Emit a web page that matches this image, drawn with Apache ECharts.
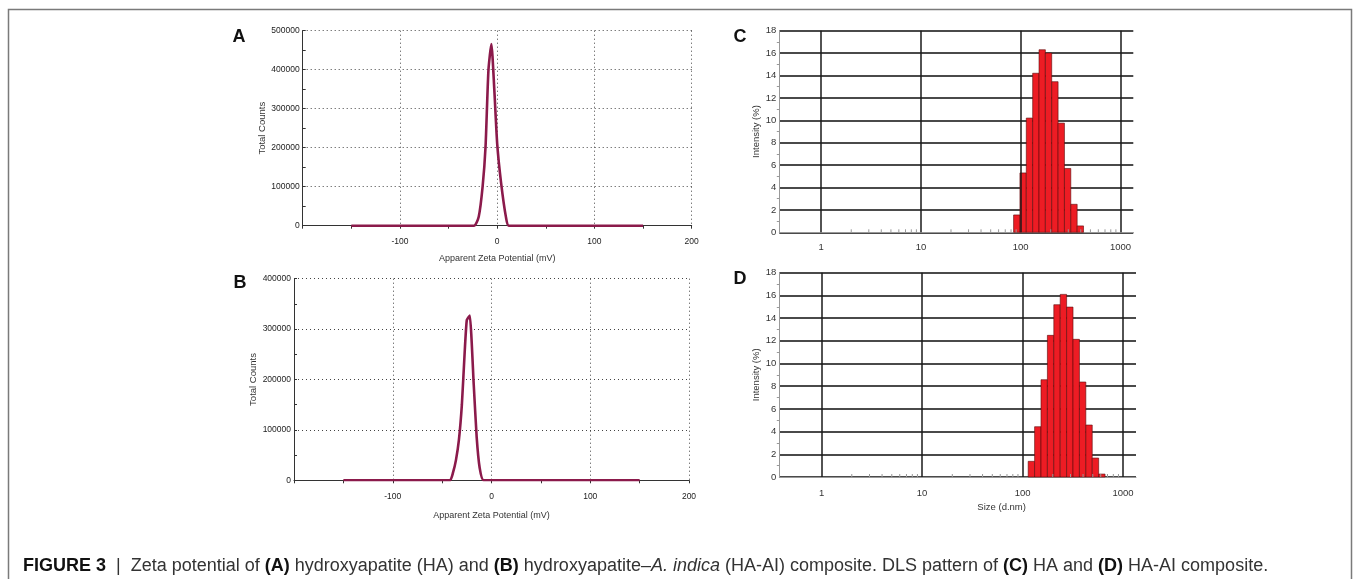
<!DOCTYPE html>
<html>
<head>
<meta charset="utf-8">
<script src="https://cdn.jsdelivr.net/npm/echarts@6/dist/echarts.min.js"></script>
<style>
html,body{margin:0;padding:0;background:#fff;}
#chart{width:1355px;height:579px;}
</style>
</head>
<body>
<div id="chart"></div>
<script>
// ---------- DATA ----------
// Panel A: zeta potential of HA
const zetaA = [-150, -24, -19, -15, -12, -9, -6, -3, 0, 4, 9, 12, 150];
const countsA = [0, 0, 23000, 100000, 202000, 399000, 466000, 350000, 210000, 110000, 22000, 0, 0];
// Panel B: zeta potential of HA-AI
const zetaB = [-150, -42, -39, -36, -33, -30, -27, -25, -22, -18, -15, -12, -8, 150];
const countsB = [0, 0, 15000, 40000, 80000, 150000, 260000, 318000, 327000, 190000, 85000, 25000, 0, 0];
// Panel C: DLS size distribution of HA
const sizeC = [91.28, 105.7, 122.4, 141.8, 164.2, 190.1, 220.2, 255.0, 295.3, 342.0, 396.1];
const intensityC = [1.55, 5.3, 10.2, 14.2, 16.3, 16.0, 13.45, 9.75, 5.7, 2.5, 0.57];
// Panel D: DLS size distribution of HA-AI
const sizeD = [122.4, 141.8, 164.2, 190.1, 220.2, 255.0, 295.3, 342.0, 396.1, 458.7, 531.2, 615.1];
const intensityD = [1.38, 4.43, 8.57, 12.48, 15.18, 16.09, 14.97, 12.13, 8.37, 4.58, 1.67, 0.26];
// Tick labels / positions
const zetaTicks = [-100, 0, 100, 200];
const sizeDecades = [1, 10, 100, 1000];
const sizeMinorTicks = [2,3,4,5,6,7,8,9,20,30,40,50,60,70,80,90,200,300,400,500,600,700,800,900];

// ---------- STYLE ----------
const BIN_RATIO = 1.158;
const narrow = "'Liberation Sans Narrow', 'Liberation Sans', Arial, sans-serif";
const sans = "'Liberation Sans', Arial, sans-serif";
const lineColor = '#8b1a4b';
const barColor = '#ed1c24';

const chart = echarts.init(document.getElementById('chart'));

function zetaX(gridIdx, nameGap, labelMargin) {
  return {
    type: 'value', gridIndex: gridIdx, min: -200, max: 200, interval: 100,
    name: 'Apparent Zeta Potential (mV)', nameLocation: 'middle', nameGap: nameGap,
    nameTextStyle: {fontFamily: narrow, fontSize: 9, color: '#333'},
    axisLine: {show: true, onZero: false, lineStyle: {color: '#333', width: 1}},
    axisTick: {show: true, length: 3, lineStyle: {color: '#333'}},
    minorTick: {show: true, splitNumber: 2, length: 3, lineStyle: {color: '#333'}},
    axisLabel: {show: true, showMinLabel: false, fontFamily: narrow, fontSize: 8.5, color: '#222', margin: labelMargin,
      formatter: v => zetaTicks.indexOf(v) >= 0 ? String(v) : ''},
    splitLine: {show: true, lineStyle: {color: '#444', type: [1, 3], width: 1}}
  };
}
function zetaY(gridIdx, max) {
  return {
    type: 'value', gridIndex: gridIdx, min: 0, max: max, interval: 100000,
    name: 'Total Counts', nameLocation: 'middle', nameGap: 29.5,
    nameTextStyle: {fontFamily: narrow, fontSize: 9.5, color: '#333'},
    axisLine: {show: true, onZero: false, lineStyle: {color: '#333', width: 1}},
    axisTick: {show: true, inside: true, length: 3, lineStyle: {color: '#333'}},
    minorTick: {show: true, splitNumber: 2, length: 3, lineStyle: {color: '#333'}},
    axisLabel: {fontFamily: narrow, fontSize: 8.5, color: '#222', margin: 3, formatter: v => String(v)},
    splitLine: {show: true, lineStyle: {color: '#444', type: [1, 3], width: 1}}
  };
}
function sizeX(gridIdx, showName, labelMargin) {
  return {
    type: 'log', logBase: 10, gridIndex: gridIdx, min: 0.38, max: 1345,
    name: showName ? 'Size (d.nm)' : '', nameLocation: 'middle', nameGap: 25,
    nameTextStyle: {fontFamily: sans, fontSize: 9.5, color: '#333', padding: [0, 0, 0, 88]},
    axisLine: {show: true, onZero: false, lineStyle: {color: '#999', width: 1}},
    axisTick: {show: false},
    axisLabel: {fontFamily: sans, fontSize: 9.5, color: '#333', margin: labelMargin,
      formatter: v => {
        const l = Math.log10(v);
        return Math.abs(l - Math.round(l)) < 1e-6 ? String(Math.round(v)) : '';
      }},
    splitLine: {show: false}
  };
}
function sizeY(gridIdx) {
  return {
    type: 'value', gridIndex: gridIdx, min: 0, max: 18, interval: 2,
    name: 'Intensity (%)', nameLocation: 'middle', nameGap: 12.5,
    nameTextStyle: {fontFamily: sans, fontSize: 9.5, color: '#333'},
    axisLine: {show: true, onZero: false, lineStyle: {color: '#999', width: 1}},
    axisTick: {show: false},
    minorTick: {show: true, splitNumber: 2, length: 2.5, lineStyle: {color: '#999'}},
    axisLabel: {fontFamily: sans, fontSize: 9.5, color: '#333', margin: 3},
    splitLine: {show: true, lineStyle: {color: '#4a4a4a', width: 1.8}}
  };
}
function barSeries(xi, sizes, vals) {
  return {
    type: 'custom', xAxisIndex: xi, yAxisIndex: xi, z: 3,
    data: sizes.map((s, i) => [s, vals[i]]),
    renderItem: (params, api) => {
      const s = api.value(0), h = api.value(1), r = Math.sqrt(BIN_RATIO);
      const p0 = api.coord([s / r, h]);
      const p1 = api.coord([s * r, 0]);
      return {type: 'rect', shape: {x: p0[0], y: p0[1], width: p1[0] - p0[0], height: p1[1] - p0[1]},
        style: {fill: barColor, stroke: '#5a0a0a', lineWidth: 0.6}};
    },
    markLine: {silent: true, symbol: 'none', label: {show: false}, animation: false,
      lineStyle: {color: '#1a1a1a', type: 'solid', width: 1.5},
      data: sizeDecades.map(v => ({xAxis: v}))}
  };
}
function minorTickSeries(xi) {
  return {
    type: 'custom', xAxisIndex: xi, yAxisIndex: xi, z: 4, silent: true,
    data: sizeMinorTicks.map(v => [v, 0]),
    renderItem: (params, api) => {
      const p = api.coord([api.value(0), 0]);
      return {type: 'line', shape: {x1: p[0], y1: p[1], x2: p[0], y2: p[1] - 3}, style: {stroke: '#999', lineWidth: 1}};
    }
  };
}

const caption = '{b|FIGURE 3}{n|  |  Zeta potential of }{b|(A)}{n| hydroxyapatite (HA) and }{b|(B)}{n| hydroxyapatite–}{i|A. indica}{n| (HA-AI) composite. DLS pattern of }{b|(C)}{n| HA and }{b|(D)}{n| HA-AI composite.}';

const option = {
  animation: false,
  backgroundColor: '#fff',
  grid: [
    {left: 302.7, top: 30.7, width: 389, height: 195},
    {left: 294, top: 278.7, width: 395, height: 201.6},
    {left: 779.3, top: 30.7, width: 354, height: 201.6},
    {left: 779.3, top: 272.7, width: 356.7, height: 204.3}
  ],
  xAxis: [zetaX(0, 28, 11), zetaX(1, 31, 12), sizeX(2, false, 10), sizeX(3, true, 11)],
  yAxis: [zetaY(0, 500000), zetaY(1, 400000), sizeY(2), sizeY(3)],
  series: [
    {type: 'line', xAxisIndex: 0, yAxisIndex: 0, showSymbol: false, smooth: 0.2, z: 5,
      lineStyle: {color: lineColor, width: 2.6}, data: zetaA.map((x, i) => [x, countsA[i]])},
    {type: 'line', xAxisIndex: 1, yAxisIndex: 1, showSymbol: false, smooth: 0.15, z: 5,
      lineStyle: {color: lineColor, width: 2.6}, data: zetaB.map((x, i) => [x, countsB[i]])},
    barSeries(2, sizeC, intensityC),
    barSeries(3, sizeD, intensityD),
    minorTickSeries(2),
    minorTickSeries(3)
  ],
  graphic: [
    {type: 'rect', shape: {x: 8.5, y: 9.5, width: 1343, height: 640}, style: {fill: 'none', stroke: '#7a7a7a', lineWidth: 1.5}, silent: true},
    {type: 'text', x: 239, y: 37, style: {text: 'A', font: "bold 18px 'Liberation Sans', Arial", fill: '#111', textAlign: 'center', textVerticalAlign: 'middle'}},
    {type: 'text', x: 240, y: 283, style: {text: 'B', font: "bold 18px 'Liberation Sans', Arial", fill: '#111', textAlign: 'center', textVerticalAlign: 'middle'}},
    {type: 'text', x: 740, y: 37, style: {text: 'C', font: "bold 18px 'Liberation Sans', Arial", fill: '#111', textAlign: 'center', textVerticalAlign: 'middle'}},
    {type: 'text', x: 740, y: 279, style: {text: 'D', font: "bold 18px 'Liberation Sans', Arial", fill: '#111', textAlign: 'center', textVerticalAlign: 'middle'}},
    {type: 'text', x: 23, y: 566, style: {
      text: caption, textVerticalAlign: 'middle',
      rich: {
        b: {fontFamily: sans, fontSize: 18, fontWeight: 'bold', fill: '#111'},
        n: {fontFamily: sans, fontSize: 18, fill: '#333'},
        i: {fontFamily: sans, fontSize: 18, fontStyle: 'italic', fill: '#333'}
      }}}
  ]
};
chart.setOption(option);
</script>
</body>
</html>
